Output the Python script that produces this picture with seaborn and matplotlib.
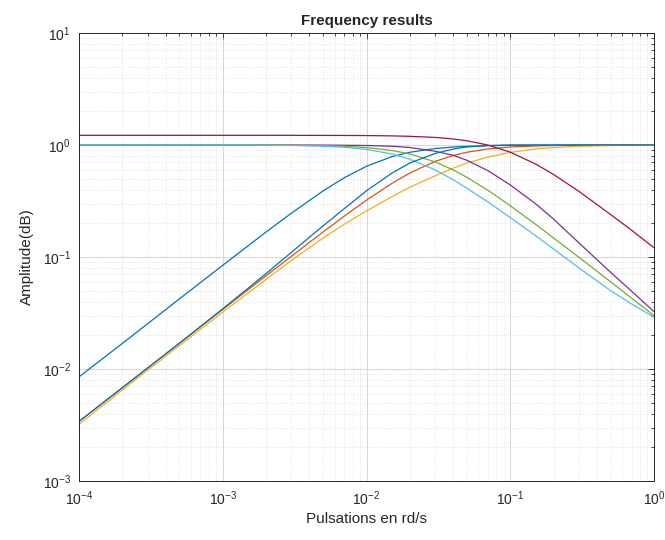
import pandas as pd
import seaborn as sns
import matplotlib.pyplot as plt
from matplotlib.ticker import LogLocator, LogFormatterMathtext, NullFormatter

freq = [1e-4, 2e-4, 5e-4, 1e-3, 2e-3, 3e-3, 5e-3, 7e-3, 1e-2, 1.5e-2, 2e-2,
        3e-2, 4e-2, 5e-2, 7e-2, 1e-1, 1.5e-1, 2e-1, 3e-1, 5e-1, 7e-1, 1.0]

# high-pass like curves
hp_blue1 = [0.0085, 0.0169, 0.0423, 0.0844, 0.167, 0.246, 0.390, 0.510, 0.646, 0.786, 0.861,
            0.930, 0.959, 0.973, 0.986, 0.993, 0.997, 0.998, 0.999, 1.0, 1.0, 1.0]
hp_orange = [0.0034, 0.0068, 0.0170, 0.0340, 0.0679, 0.1015, 0.1676, 0.2316, 0.322, 0.454, 0.562,
             0.714, 0.806, 0.862, 0.922, 0.959, 0.981, 0.989, 0.995, 0.998, 0.999, 1.0]
hp_yellow = [0.0032, 0.0065, 0.0162, 0.0322, 0.063, 0.093, 0.148, 0.196, 0.258, 0.345, 0.42,
             0.53, 0.62, 0.69, 0.78, 0.86, 0.92, 0.95, 0.975, 0.99, 0.995, 0.998]
hp_blue2 = [0.0034, 0.0068, 0.0170, 0.0345, 0.071, 0.11, 0.19, 0.27, 0.39, 0.56, 0.69,
            0.84, 0.92, 0.96, 0.99, 1.0, 1.0, 1.0, 1.0, 1.0, 1.0, 1.0]

# low-pass like curves
lp_purple = [1.0, 1.0, 1.0, 1.0, 1.0, 1.0, 0.998, 0.995, 0.99, 0.975, 0.95,
             0.88, 0.81, 0.73, 0.59, 0.44, 0.299, 0.218, 0.134, 0.0728, 0.0494, 0.0325]
lp_green = [1.0, 1.0, 1.0, 1.0, 0.998, 0.995, 0.986, 0.974, 0.949, 0.894, 0.832,
            0.707, 0.60, 0.514, 0.394, 0.287, 0.196, 0.148, 0.0995, 0.060, 0.0428, 0.030]
lp_cyan = [1.0, 1.0, 1.0, 1.0, 0.996, 0.991, 0.976, 0.955, 0.914, 0.832, 0.747,
           0.60, 0.49, 0.41, 0.31, 0.225, 0.155, 0.118, 0.08, 0.05, 0.038, 0.029]
lp_red = [1.22, 1.22, 1.22, 1.22, 1.22, 1.22, 1.218, 1.217, 1.214, 1.206, 1.196,
          1.168, 1.133, 1.091, 0.999, 0.863, 0.677, 0.546, 0.386, 0.239, 0.173, 0.121]

series = [
    (hp_blue1, '#0072BD'),
    (hp_orange, '#D95319'),
    (hp_yellow, '#EDB120'),
    (lp_purple, '#7E2F8E'),
    (lp_green, '#77AC30'),
    (lp_cyan, '#4DBEEE'),
    (lp_red, '#A2142F'),
    (hp_blue2, '#0072BD'),
]

sns.set_theme(style="white")
plt.rcParams['font.family'] = ['Liberation Sans', 'DejaVu Sans']
plt.rcParams['mathtext.fontset'] = 'custom'
plt.rcParams['mathtext.rm'] = 'Liberation Sans'
plt.rcParams['mathtext.it'] = 'Liberation Sans:italic'

fig = plt.figure(figsize=(6.65, 5.4), dpi=100)
ax = fig.add_axes([79 / 665, 59 / 540, 575 / 665, 448 / 540])
ax.set_xscale('log')
ax.set_yscale('log')

for vals, color in series:
    df = pd.DataFrame({'w': freq, 'A': vals})
    sns.lineplot(data=df, x='w', y='A', color=color, lw=0.9, ax=ax)

ax.set_xlim(1e-4, 1)
ax.set_ylim(1e-3, 10)

# matlab-like grid
ax.grid(True, which='major', color='#d6d6d6', lw=0.7)
ax.grid(True, which='minor', color='#dedede', lw=0.6, ls=':')
ax.set_axisbelow(True)

for a in (ax.xaxis, ax.yaxis):
    a.set_major_locator(LogLocator(base=10, numticks=10))
    a.set_minor_locator(LogLocator(base=10, subs=range(2, 10), numticks=10))
    a.set_major_formatter(LogFormatterMathtext())
    a.set_minor_formatter(NullFormatter())

ax.tick_params(which='both', direction='in', top=True, right=True, colors='#262626',
               labelsize=10, width=0.6)
ax.tick_params(which='major', length=4, pad=6)
ax.tick_params(which='minor', length=2.2)
for sp in ax.spines.values():
    sp.set_color('#262626')
    sp.set_linewidth(0.7)

ax.set_title('Frequency results', fontsize=11, fontweight='bold', pad=6)
ax.set_xlabel('Pulsations en rd/s', fontsize=11, color='#262626', labelpad=3)
ax.set_ylabel('Amplitude(dB)', fontsize=11, color='#262626', labelpad=6)

fig.savefig('out.png', dpi=100)
